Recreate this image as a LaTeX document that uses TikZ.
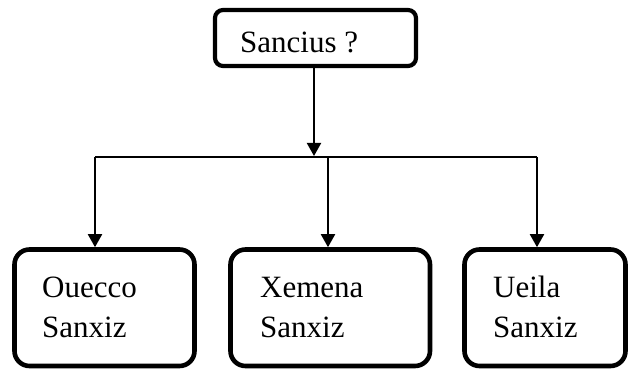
\documentclass[tikz,border=0pt]{standalone}
\usepackage{fontspec}
\setmainfont{Liberation Serif}
\usetikzlibrary{arrows.meta}
\begin{document}
\begin{tikzpicture}[x=1pt,y=-1pt,
  topbox/.style={draw, line width=4.2pt, rounded corners=8pt, minimum width=201pt, minimum height=56pt, inner sep=0pt},
  childbox/.style={draw, line width=4.6pt, rounded corners=15pt, minimum height=116.5pt, inner sep=0pt},
  lbl/.style={font=\fontsize{31}{40}\selectfont, align=left, inner sep=0pt, anchor=base west},
  conn/.style={line width=2pt},
  arr/.style={conn, -{Triangle[length=13pt,width=14pt]}}]
\useasboundingbox (0,0) rectangle (630,371);
\node[topbox] (top) at (315.5,38) {};
\node[childbox, minimum width=180pt] (b1) at (104.5,307.75) {};
\node[childbox, minimum width=199.5pt] (b2) at (330.25,307.75) {};
\node[childbox, minimum width=161pt] (b3) at (545,307.75) {};
\node[lbl] (t0) at (240,53) {Sancius ?};
\node[lbl] (t1) at (42,338) {Ouecco\\Sanxiz};
\node[lbl] (t2) at (260,338) {Xemena\\Sanxiz};
\node[lbl] (t3) at (493,338) {Ueila\\Sanxiz};
\coordinate (j) at (314,156);
\coordinate (hl) at (95,157);
\coordinate (hm) at (328,157);
\coordinate (hr) at (537,157);
\draw[arr] (top.south -| j) -- (j);
\draw[conn] (hl) -- (hr);
\draw[arr] (hl) -- (hl |- b1.north);
\draw[arr] (hm) -- (hm |- b2.north);
\draw[arr] (hr) -- (hr |- b3.north);
\end{tikzpicture}
\end{document}
